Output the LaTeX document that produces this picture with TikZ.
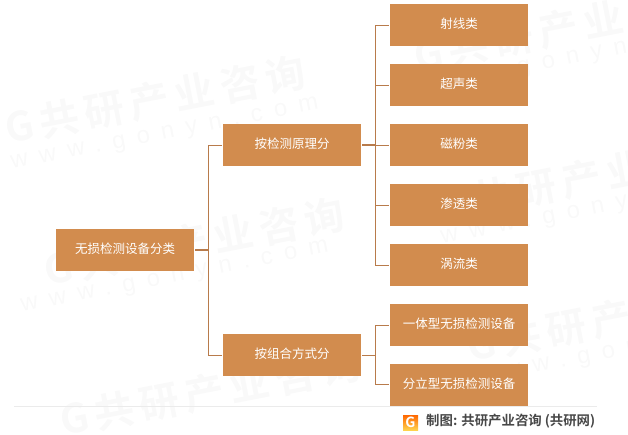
\documentclass[tikz,border=0pt]{standalone}
\usepackage{fontspec}
\setmainfont{Noto Sans CJK SC}
\newfontfamily\cjkbold{Noto Sans CJK SC Bold}
\newfontfamily\markfont[LetterSpace=15]{Noto Sans CJK SC Bold}
\newfontfamily\urlfont[LetterSpace=48]{Liberation Sans}
\usetikzlibrary{positioning,calc}
\definecolor{boxfill}{HTML}{D28C4E}
\definecolor{linkcol}{HTML}{B87B4B}
\definecolor{markcol}{HTML}{F9F9F9}
\tikzset{
  catbox/.style={fill=boxfill,text=white,minimum width=138pt,minimum height=42pt,inner sep=0pt,text height=10.6pt,text depth=3.4pt,font=\fontsize{12.5pt}{14pt}\selectfont},
  link/.style={draw=linkcol,line width=1pt},
  linkbold/.style={draw=linkcol,line width=1.6pt},
  markcn/.style={text=markcol,font=\markfont\fontsize{40pt}{42pt}\selectfont,rotate=11,inner sep=0pt},
  markurl/.style={text=markcol,font=\urlfont\fontsize{24pt}{26pt}\selectfont,rotate=11,inner sep=0pt},
}
\begin{document}
\begin{tikzpicture}[x=1pt,y=-1pt]
  \useasboundingbox (0,0) rectangle (628,434);

  % watermark
  \node[markcn] (markA) at (155,100) {G共研产业咨询};
  \node[markurl] (urlA) at (165,135) {www.gonyn.com};
  \node[markcn] (markB) at (194,242) {G共研产业咨询};
  \node[markurl] (urlB) at (175,278) {www.gonyn.com};
  \node[markcn] (markC) at (564,28) {G共研产业咨询};
  \node[markurl] (urlC) at (570,60) {www.gonyn.com};
  \node[markcn] (markD) at (587,178) {G共研产业咨询};
  \node[markurl] (urlD) at (595,210) {www.gonyn.com};
  \node[markcn] (markE) at (210,392) {G共研产业咨询};
  \node[markcn] (markF) at (617,318) {G共研产业咨询};
  \node[markurl] (urlF) at (630,350) {www.gonyn.com};

  % boxes
  \node[catbox] (root) at (125,250) {无损检测设备分类};
  \node[catbox] (principle) at (292,145) {按检测原理分};
  \node[catbox] (combine) at (292,355) {按组合方式分};
  \node[catbox] (ray) at (459,25) {射线类};
  \node[catbox] (sonic) at (459,85) {超声类};
  \node[catbox] (magnet) at (459,145) {磁粉类};
  \node[catbox] (seep) at (459,205) {渗透类};
  \node[catbox] (eddy) at (459,265) {涡流类};
  \node[catbox] (whole) at (459,325) {一体型无损检测设备};
  \node[catbox] (split) at (459,384.5) {分立型无损检测设备};

  % connectors
  \coordinate (trunkL) at ($(root.east)+(14,0)$);
  \coordinate (trunkM) at ($(principle.east)+(14.5,0)$);
  \coordinate (trunkN) at ($(combine.east)+(14.5,0)$);
  \draw[linkbold] ([xshift=1pt]root.east) -- (trunkL);
  \draw[link] ([xshift=-1pt]principle.west) -| (trunkL);
  \draw[link] ([xshift=-1pt]combine.west) -| (trunkL);
  \draw[linkbold] ([xshift=1pt]principle.east) -- (trunkM);
  \foreach \leaf in {ray,sonic,magnet,seep,eddy}
    \draw[link] ([xshift=-1pt]\leaf.west) -| (trunkM);
  \draw[link] ([xshift=1pt]combine.east) -- (trunkN);
  \foreach \leaf in {whole,split}
    \draw[link] ([xshift=-1pt]\leaf.west) -| (trunkN);

  % footer
  \coordinate (ruleL) at (14,406.5);
  \coordinate (ruleR) at (597,406.5);
  \draw[draw=black!8,line width=0.8pt] (ruleL) -- (ruleR);
  \path[top color=orange!80!red,bottom color=orange!50!yellow!70] (403,415) rectangle (418,430);
  \node[text=white,font=\cjkbold\fontsize{14pt}{14pt}\selectfont,inner sep=0pt] (logo) at (410.5,422) {G};
  \node[text=black!72,font=\cjkbold\fontsize{13.4pt}{15pt}\selectfont,inner sep=0pt,anchor=west] (source) at (426,421.5) {制图: 共研产业咨询 (共研网)};
\end{tikzpicture}
\end{document}
